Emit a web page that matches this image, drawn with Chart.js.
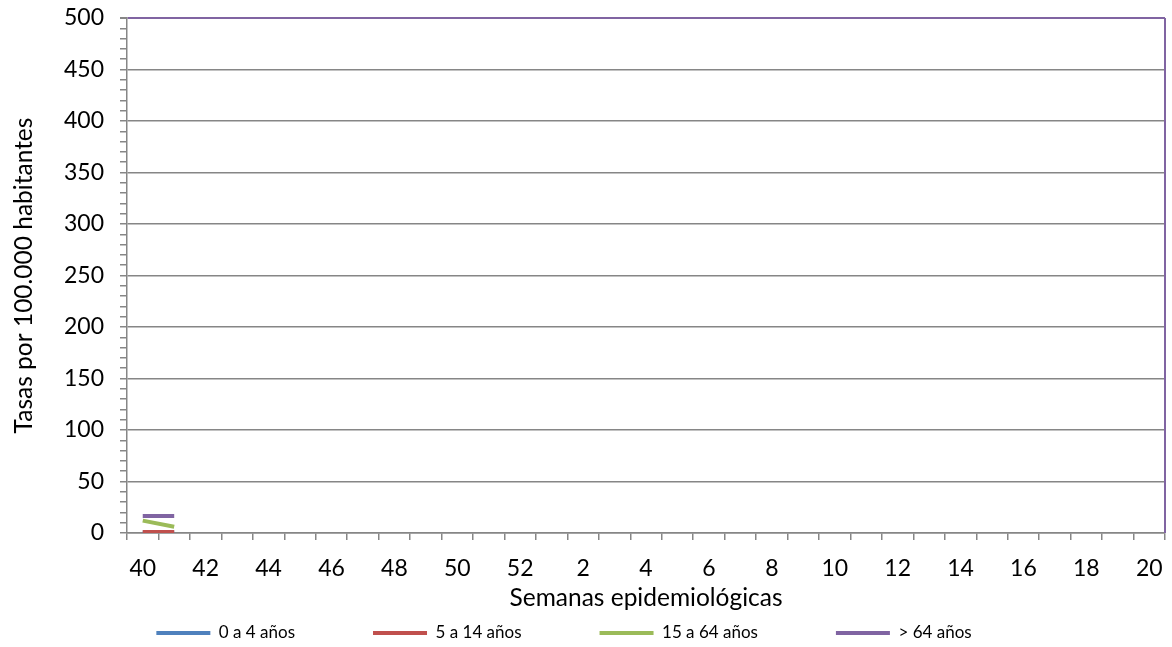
<!DOCTYPE html>
<html>
<head>
<meta charset="utf-8">
<script src="https://cdn.jsdelivr.net/npm/chart.js@4/dist/chart.umd.min.js"></script>
<style>
  html, body { margin: 0; padding: 0; background: #fff; }
  #wrap { width: 1172px; height: 647px; }
</style>
</head>
<body>
<div id="wrap"><canvas id="canvas"></canvas></div>
<script>
// weeks 40..52 then 1..20
const semanas = [40, 41, 42, 43, 44, 45, 46, 47, 48, 49, 50, 51, 52,
  1, 2, 3, 4, 5, 6, 7, 8, 9, 10, 11, 12, 13, 14, 15, 16, 17, 18, 19, 20];

const edad0a4 = [0.5, 0.5];
const edad5a14 = [1, 1];
const edad15a64 = [12, 6];
const edadMas64 = [16.5, 16.5];

const seriesNames = ["0 a 4 años", "5 a 14 años", "15 a 64 años", "> 64 años"];
const seriesColors = ["#4F81BD", "#C0504D", "#9BBB59", "#8064A2"];

const FONT = "Lato, 'Open Sans', sans-serif";
const GRAY = "#868686";
const LEGEND_GAP = 78;

const canvas = document.querySelector("#canvas");

function pad(arr) {
  return semanas.map((_, i) => (i < arr.length ? arr[i] : null));
}

// right border of the plot in purple, like the original
const plotBorder = {
  id: "plotBorder",
  afterDatasetsDraw(chart) {
    const { ctx, chartArea } = chart;
    ctx.save();
    ctx.strokeStyle = "#8064A2";
    ctx.lineWidth = 2;
    ctx.beginPath();
    ctx.moveTo(chartArea.right, chartArea.top);
    ctx.lineTo(chartArea.right, chartArea.bottom);
    ctx.stroke();
    ctx.restore();
  },
};

// big legend padding gives the wide gaps, but keep the box short
const flatLegend = {
  id: "flatLegend",
  afterInit(chart) {
    const legend = chart.legend;
    const fit = legend.fit;
    legend.fit = function () {
      fit.call(this);
      if (this.isHorizontal()) this.height = 30;
    };
  },
  afterLayout(chart) {
    const legend = chart.legend;
    legend.top = 624.5 - LEGEND_GAP;
    legend.left -= 23;
    legend.right -= 23;
  },
};

const allSeries = [edad0a4, edad5a14, edad15a64, edadMas64];

const config = {
  type: "line",
  data: {
    labels: semanas.map(String),
    datasets: allSeries.map((s, i) => ({
      label: seriesNames[i],
      data: pad(s),
      borderColor: seriesColors[i],
      backgroundColor: seriesColors[i],
      borderWidth: 4,
      pointRadius: 0,
      fill: false,
      order: 4 - i,
    })),
  },
  options: {
    responsive: true,
    maintainAspectRatio: false,
    animation: false,
    layout: { padding: { left: 4, right: 2, top: 4, bottom: 4 } },
    plugins: {
      legend: {
        position: "bottom",
        labels: {
          usePointStyle: true,
          pointStyle: "line",
          pointStyleWidth: 54,
          padding: LEGEND_GAP,
          color: "#000",
          font: { family: FONT, size: 17 },
          sort: (a, b) => a.datasetIndex - b.datasetIndex,
        },
      },
      tooltip: { enabled: false },
    },
    scales: {
      x: {
        offset: true,
        afterFit: (scale) => { scale.paddingRight = 7; },
        grid: {
          offset: true,
          drawOnChartArea: false,
          color: GRAY,
          tickLength: 7,
          lineWidth: 1.5,
        },
        border: { color: GRAY, width: 1.5 },
        ticks: {
          autoSkip: false,
          maxRotation: 0,
          color: "#000",
          font: { family: FONT, size: 23 },
          padding: 15,
          callback: (v, i) => (i % 2 === 0 ? semanas[i] : ""),
        },
        title: {
          display: true,
          text: "Semanas epidemiológicas",
          color: "#000",
          font: { family: FONT, size: 24.5 },
          padding: { top: -14, bottom: 0 },
        },
      },
      y: {
        min: 0,
        max: 500,
        afterFit: (scale) => { scale.paddingTop = 18; },
        grid: {
          color: (c) => (c.tick.value === 500 ? "#8064A2" : c.tick.value % 50 === 0 ? GRAY : "rgba(0,0,0,0)"),
          tickColor: GRAY,
          tickLength: 7,
          lineWidth: (c) => (c.tick.value === 500 ? 2 : 1.5),
        },
        border: { color: GRAY, width: 1.5 },
        ticks: {
          stepSize: 10,
          autoSkip: false,
          color: "#000",
          font: { family: FONT, size: 23 },
          padding: 16,
          callback: (v) => (v % 50 === 0 ? v : ""),
        },
        title: {
          display: true,
          text: "Tasas por 100.000 habitantes",
          color: "#000",
          font: { family: FONT, size: 24.5 },
          padding: { top: 5, bottom: 9.6 },
        },
      },
    },
  },
  plugins: [plotBorder, flatLegend],
};

new Chart(canvas.getContext("2d"), config);
</script>
</body>
</html>
